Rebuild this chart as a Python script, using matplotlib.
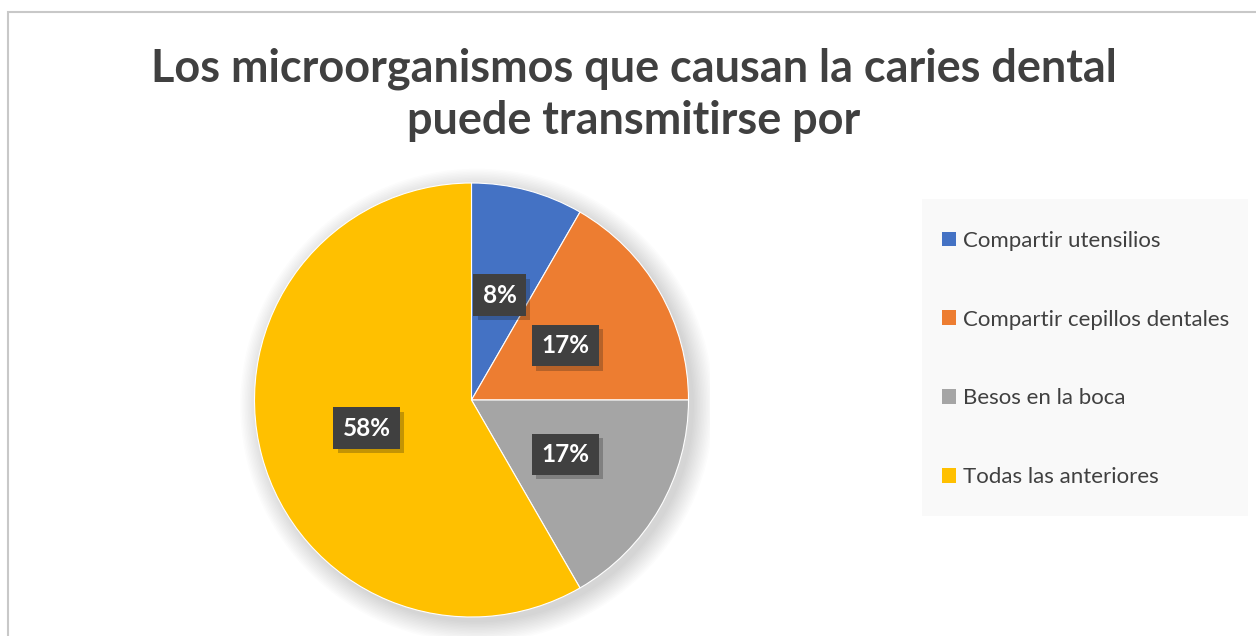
import matplotlib
matplotlib.use("Agg")
import matplotlib.pyplot as plt
from matplotlib.patches import Rectangle, Circle
import matplotlib.patheffects as pe

# data
categories = ["Compartir utensilios", "Compartir cepillos dentales",
              "Besos en la boca", "Todas las anteriores"]
counts = [1, 2, 2, 7]
colors = ["#4472C4", "#ED7D31", "#A5A5A5", "#FFC000"]
title = "Los microorganismos que causan la caries dental\npuede transmitirse por"

W, H = 1256, 636
fig = plt.figure(figsize=(W / 100, H / 100), dpi=100)
fig.patch.set_facecolor("white")

# chart border (cropped at right / bottom)
fig.patches.append(Rectangle((8 / W, -0.1), 1.2, (H - 12) / H + 0.1, transform=fig.transFigure,
                             fill=False, edgecolor="#c8c8c8", linewidth=1.5))

# title
fig.text(634 / W, 1 - 95 / H, title, ha="center", va="center", fontsize=32.4,
         fontweight="bold", color="#404040", family="Lato", linespacing=1.3)

# pie axes: centre (471.5, 400), radius 217 px
r = 217
cx, cy = 471.5, H - 400
ax = fig.add_axes([(cx - 1.1 * r) / W, (cy - 1.1 * r) / H, 2.2 * r / W, 2.2 * r / H])

# soft shadow behind pie
for i in range(14):
    ax.add_patch(Circle((0.025, -0.025), 1.0 + 0.007 * i, color="black", alpha=0.012,
                        linewidth=0, zorder=0))

wedges, texts, autotexts = ax.pie(counts, colors=colors, startangle=90, counterclock=False,
                                  autopct="%.0f%%", pctdistance=0.5,
                                  wedgeprops=dict(linewidth=0.8, edgecolor="white"),
                                  textprops=dict(color="white", fontsize=17.5, fontweight="bold",
                                                 family="Lato"))
for t in autotexts:
    t.set_bbox(dict(boxstyle="square,pad=0.38", facecolor="#404040", edgecolor="none"))
    t.get_bbox_patch().set_path_effects([pe.SimplePatchShadow(offset=(3, -3), alpha=0.25),
                                         pe.Normal()])
ax.set_xlim(-1.1, 1.1)
ax.set_ylim(-1.1, 1.1)
ax.set_aspect("equal")
ax.axis("off")

# legend background
fig.patches.append(Rectangle((922 / W, 1 - 516 / H), 326 / W, 317 / H, transform=fig.transFigure,
                             facecolor="#f9f9f9", edgecolor="none", zorder=0))
leg = fig.legend(wedges, categories, loc="center left",
                 bbox_to_anchor=(922 / W, 1 - 359 / H), frameon=False,
                 handlelength=0.63, handleheight=0.63, handletextpad=0.3,
                 labelspacing=2.65, prop=dict(family="Lato", size=16))
for t in leg.get_texts():
    t.set_color("#404040")
for h in leg.legend_handles:
    h.set_edgecolor("none")

fig.savefig("out.png", dpi=100)
